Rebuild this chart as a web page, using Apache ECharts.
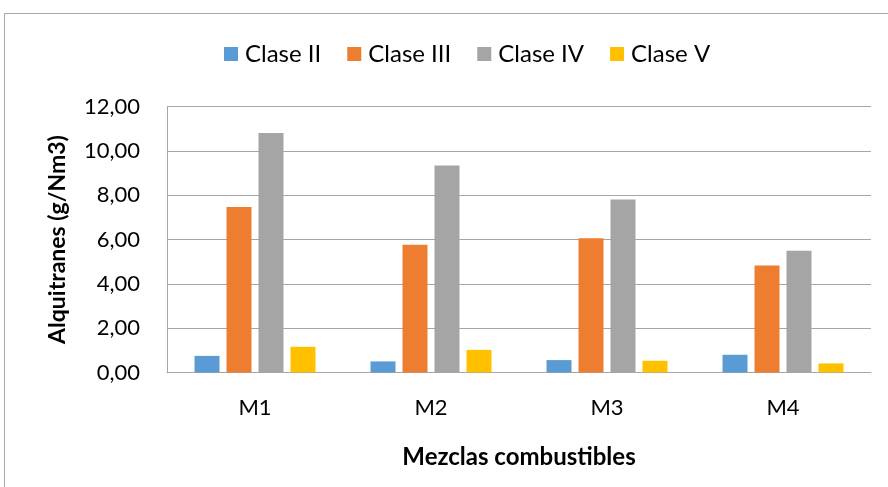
<!DOCTYPE html>
<html>
<head>
<meta charset="utf-8">
<style>
  html, body { margin: 0; padding: 0; background: #ffffff; }
  #chart { width: 888px; height: 487px; }
</style>
<script src="https://cdn.jsdelivr.net/npm/echarts@6/dist/echarts.min.js"></script>
</head>
<body>
<div id="chart"></div>
<script>
// Tar content by fuel blend and tar class
const categories = ['M1', 'M2', 'M3', 'M4'];
const claseII  = [0.75, 0.50, 0.56, 0.80];
const claseIII = [7.47, 5.76, 6.06, 4.83];
const claseIV  = [10.81, 9.34, 7.80, 5.49];
const claseV   = [1.16, 1.02, 0.53, 0.41];

const seriesNames = ['Clase II', 'Clase III', 'Clase IV', 'Clase V'];
const seriesData = [claseII, claseIII, claseIV, claseV];
const colors = ['#5b9bd5', '#ed7d31', '#a5a5a5', '#ffc000'];

const FONT = 'Lato';
const chart = echarts.init(document.getElementById('chart'), null, { renderer: 'canvas' });

chart.setOption({
  animation: false,
  backgroundColor: '#ffffff',
  color: colors,
  textStyle: { fontFamily: FONT },
  graphic: [{
    type: 'rect',
    shape: { x: 4.5, y: 13.5, width: 920, height: 520 },
    style: { fill: 'none', stroke: '#a6a6a6', lineWidth: 1 },
    silent: true
  }],
  legend: {
    left: 219,
    top: 37,
    itemWidth: 14,
    itemHeight: 14,
    itemGap: 26,
    icon: 'rect',
    textStyle: { fontFamily: FONT, fontSize: 24, color: '#000000', padding: [0, 0, 0, 2] },
    data: seriesNames
  },
  grid: { left: 167, right: 17, top: 106.5, bottom: 114.5 },
  xAxis: {
    type: 'category',
    data: categories,
    axisTick: { show: false },
    axisLine: { lineStyle: { color: '#a6a6a6', width: 1 } },
    axisLabel: { color: '#000000', fontFamily: FONT, fontSize: 22, margin: 24 },
    name: 'Mezclas combustibles',
    nameLocation: 'middle',
    nameGap: 73,
    nameTextStyle: { color: '#000000', fontFamily: FONT, fontSize: 24, fontWeight: 'bold' }
  },
  yAxis: {
    type: 'value',
    min: 0,
    max: 12,
    interval: 2,
    axisLine: { show: true, lineStyle: { color: '#a6a6a6', width: 1 } },
    axisTick: { show: false },
    splitLine: { lineStyle: { color: '#a6a6a6', width: 1 } },
    axisLabel: {
      color: '#000000', fontFamily: FONT, fontSize: 22, margin: 27,
      formatter: v => v.toFixed(2).replace('.', ',')
    },
    name: 'Alquitranes (g/Nm3)',
    nameLocation: 'middle',
    nameGap: 98,
    nameTextStyle: { color: '#000000', fontFamily: FONT, fontSize: 23, fontWeight: 'bold' }
  },
  series: seriesNames.map((name, i) => ({
    name: name,
    type: 'bar',
    data: seriesData[i],
    barGap: '28%',
    barCategoryGap: '31.25%'
  }))
});
</script>
</body>
</html>
